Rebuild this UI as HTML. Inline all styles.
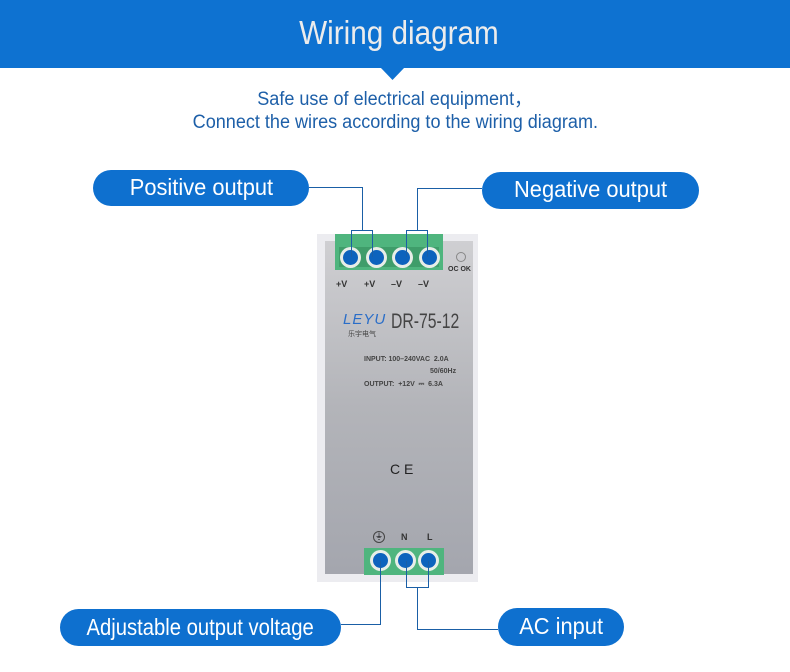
<!DOCTYPE html>
<html><head><meta charset="utf-8"><style>
body{margin:0;width:790px;height:672px;background:#fff;position:relative;overflow:hidden;font-family:"Liberation Sans","DejaVu Sans",sans-serif}
.a{position:absolute}
.pill{position:absolute;background:#0e70cf;color:#fff;border-radius:19px;text-align:center;font-size:23px;white-space:nowrap}
.pill span{display:inline-block;transform:scaleX(0.95)}
.sub{position:absolute;left:0;width:790px;text-align:center;color:#1d5fa8;font-size:19px;line-height:22px}
.ln{position:absolute;background:#1a5fa6}
.dot{position:absolute;width:15px;height:15px;border-radius:50%;background:#0d63bd;box-shadow:0 0 0 3px #e8eee8}
.lab{position:absolute;font-size:9px;font-weight:bold;color:#333}
</style></head><body>
<div class="a" style="left:0;top:0;width:790px;height:68px;background:#0e72d1"></div>
<svg class="a" style="left:380px;top:67px" width="26" height="14"><polygon points="0,0 25,0 12.5,13" fill="#0e72d1"/></svg>
<div class="a" style="left:4px;top:14px;width:790px;text-align:center;color:#ececec;font-size:33px"><span style="display:inline-block;transform:scaleX(0.9)">Wiring diagram</span></div>
<div class="sub" style="top:89px"><span style="display:inline-block;transform:scaleX(0.95)">Safe use of electrical equipment，</span></div>
<div class="sub" style="top:112px"><span style="display:inline-block;transform:scaleX(0.95)">Connect the wires according to the wiring diagram.</span></div>

<!-- device -->
<div class="a" style="left:317px;top:234px;width:161px;height:348px;background:#ececf0"></div>
<div class="a" style="left:325px;top:241px;width:148px;height:333px;background:linear-gradient(#cfcfd2,#b3b4b9 50%,#a4a6ae)"></div>
<div class="a" style="left:335px;top:234px;width:108px;height:36px;background:#4fb57e"></div>
<div class="a" style="left:339px;top:247px;width:100px;height:20px;background:#3f9d6a"></div>
<div class="dot" style="left:343px;top:250px"></div>
<div class="dot" style="left:369px;top:250px"></div>
<div class="dot" style="left:395px;top:250px"></div>
<div class="dot" style="left:422px;top:250px"></div>
<div class="a" style="left:456px;top:252px;width:8px;height:8px;border-radius:50%;border:1px solid #888"></div>
<div class="lab" style="left:448px;top:266px;font-size:7px">OC OK</div>
<div class="lab" style="left:336px;top:279px">+V</div>
<div class="lab" style="left:364px;top:279px">+V</div>
<div class="lab" style="left:391px;top:279px">–V</div>
<div class="lab" style="left:418px;top:279px">–V</div>
<div class="a" style="left:343px;top:311px;color:#2a6ec8;font-size:15px;font-style:italic;letter-spacing:1px">LEYU</div>
<div class="a" style="left:348px;top:329px;font-size:7px;color:#444;font-family:'Noto Sans CJK SC',sans-serif">乐宇电气</div>
<div class="a" style="left:391px;top:310px;font-size:21px;color:#444"><span style="display:inline-block;transform:scaleX(0.75);transform-origin:left">DR-75-12</span></div>
<div class="lab" style="left:364px;top:356px;font-size:7px;color:#444">INPUT: 100–240VAC &nbsp;2.0A</div>
<div class="lab" style="left:430px;top:368px;font-size:7px;color:#444">50/60Hz</div>
<div class="lab" style="left:364px;top:381px;font-size:7px;color:#444">OUTPUT: &nbsp;+12V &nbsp;⎓ &nbsp;6.3A</div>
<div class="a" style="left:390px;top:461px;font-size:14px;color:#222">C E</div>
<div class="a" style="left:373px;top:531px;width:10px;height:10px;border-radius:50%;border:1px solid #444;font-size:8px;text-align:center;line-height:10px">⏚</div>
<div class="lab" style="left:401px;top:532px">N</div>
<div class="lab" style="left:427px;top:532px">L</div>
<div class="a" style="left:364px;top:548px;width:80px;height:27px;background:#4fb57e"></div>
<div class="dot" style="left:373px;top:553px"></div>
<div class="dot" style="left:398px;top:553px"></div>
<div class="dot" style="left:421px;top:553px"></div>

<!-- lines -->
<div class="ln" style="left:309px;top:187px;width:54px;height:1px"></div>
<div class="ln" style="left:362px;top:187px;width:1px;height:44px"></div>
<div class="ln" style="left:351px;top:230px;width:22px;height:1px"></div>
<div class="ln" style="left:351px;top:230px;width:1px;height:27px"></div>
<div class="ln" style="left:372px;top:230px;width:1px;height:27px"></div>
<div class="ln" style="left:417px;top:188px;width:65px;height:1px"></div>
<div class="ln" style="left:417px;top:188px;width:1px;height:43px"></div>
<div class="ln" style="left:406px;top:230px;width:22px;height:1px"></div>
<div class="ln" style="left:406px;top:230px;width:1px;height:27px"></div>
<div class="ln" style="left:427px;top:230px;width:1px;height:27px"></div>
<div class="ln" style="left:380px;top:561px;width:1px;height:64px"></div>
<div class="ln" style="left:341px;top:624px;width:40px;height:1px"></div>
<div class="ln" style="left:406px;top:561px;width:1px;height:27px"></div>
<div class="ln" style="left:428px;top:561px;width:1px;height:27px"></div>
<div class="ln" style="left:406px;top:587px;width:23px;height:1px"></div>
<div class="ln" style="left:417px;top:587px;width:1px;height:43px"></div>
<div class="ln" style="left:417px;top:629px;width:81px;height:1px"></div>

<div class="pill" style="left:93px;top:170px;width:216px;height:36px;line-height:34px"><span>Positive output</span></div>
<div class="pill" style="left:482px;top:172px;width:217px;height:37px;line-height:35px"><span>Negative output</span></div>
<div class="pill" style="left:60px;top:609px;width:281px;height:37px;line-height:36px"><span style="transform:scaleX(0.88)">Adjustable output voltage</span></div>
<div class="pill" style="left:498px;top:608px;width:126px;height:38px;line-height:36px"><span>AC input</span></div>
</body></html>
